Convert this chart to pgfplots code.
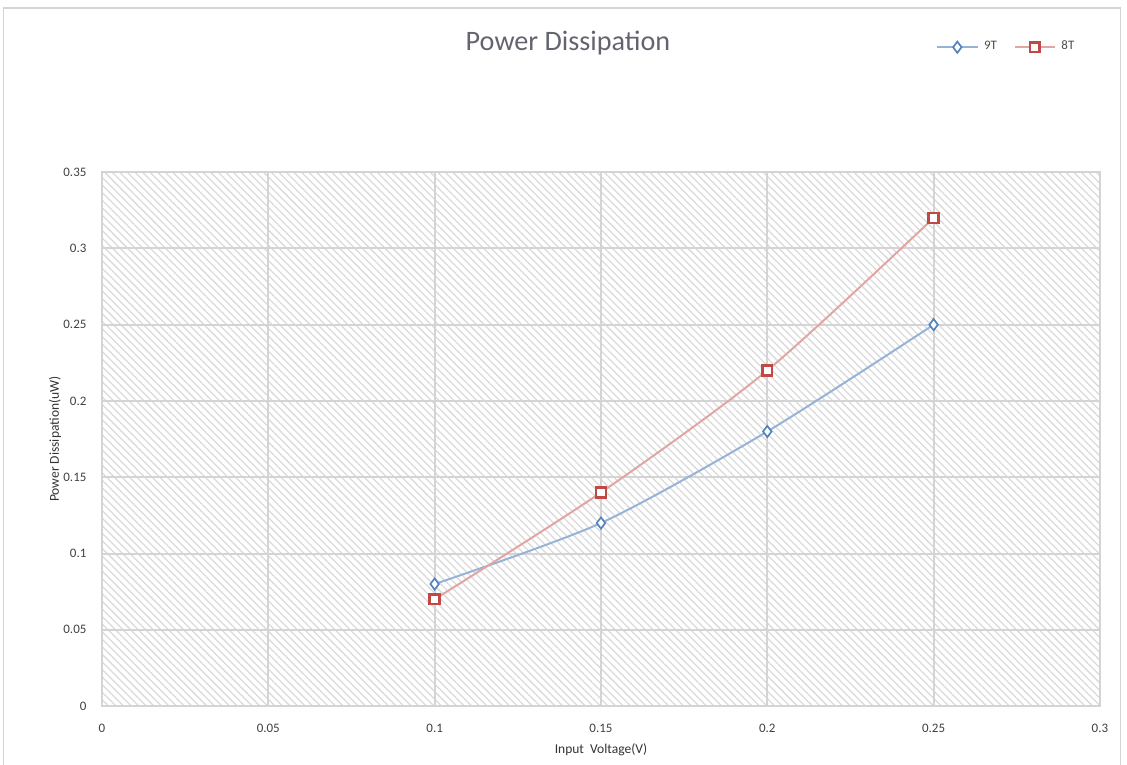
\documentclass[border=0pt]{standalone}
\usepackage{fontspec}
\setmainfont{Carlito}
\usepackage{pgfplots}
\pgfplotsset{compat=1.18}
\usetikzlibrary{patterns.meta}

\definecolor{titlegray}{RGB}{100,100,112}
\definecolor{blueline}{RGB}{150,178,214}
\definecolor{bluemark}{RGB}{84,130,190}
\definecolor{redline}{RGB}{225,165,163}
\definecolor{redmark}{RGB}{192,72,70}
\definecolor{gridgray}{RGB}{212,212,212}
\definecolor{hatch}{RGB}{218,218,218}

\begin{document}
\begin{tikzpicture}
\useasboundingbox (-36.2pt,-20.6pt) rectangle (363.8pt,250.6pt);
\draw[gridgray,line width=0.5pt] (-35pt,-25pt) -- (-35pt,247.8pt) -- (361.5pt,247.8pt) -- (361.5pt,-25pt);
\begin{axis}[
    at={(0,0)}, anchor=south west,
    scale only axis,
    width=354.2pt, height=189.5pt,
    xmin=0, xmax=0.3,
    ymin=0, ymax=0.35,
    xtick={0,0.05,...,0.3},
    ytick={0,0.05,...,0.35},
    xticklabels={0,0.05,0.1,0.15,0.2,0.25,0.3},
    yticklabels={0,0.05,0.1,0.15,0.2,0.25,0.3,0.35},
    tick label style={font=\fontsize{4.6}{5}\selectfont, text=black!75},
    /pgf/number format/assume math mode=true,
    xticklabel style={yshift=-3pt},
    yticklabel style={xshift=-2pt},
    major tick length=0pt,
    axis line style={gridgray, line width=0.5pt},
    grid=major,
    grid style={gridgray, line width=0.7pt},
    axis background/.style={pattern={Lines[angle=-45,distance=1.9pt,line width=0.45pt]}, pattern color=hatch},
    xlabel={Input \ Voltage(V)},
    ylabel={Power Dissipation(uW)},
    label style={font=\fontsize{4.8}{5}\selectfont, text=black!80},
    xlabel style={yshift=3pt},
    ylabel style={yshift=-6pt},
    legend columns=2,
    legend style={at={(0.827,1.234)}, anchor=west, draw=none, fill=none,
        font=\fontsize{4.6}{5}\selectfont, text=black!70,
        /tikz/every even column/.append style={column sep=4pt}},
    legend image code/.code={
        \draw[mark repeat=2,mark phase=2,#1] plot coordinates {(0cm,0cm) (0.25cm,0cm) (0.5cm,0cm)};
    },
]
\addplot[blueline, line width=0.7pt, smooth, tension=0.45,
    mark=diamond*, mark size=2pt,
    mark options={draw=bluemark, fill=white, line width=0.6pt}]
    coordinates {(0.1,0.08)(0.15,0.12)(0.2,0.18)(0.25,0.25)};
\addplot[redline, line width=0.7pt, smooth, tension=0.45,
    mark=square*, mark size=1.75pt,
    mark options={draw=redmark, fill=white, line width=0.9pt}]
    coordinates {(0.1,0.07)(0.15,0.14)(0.2,0.22)(0.25,0.32)};
\legend{9T,8T}
\end{axis}
\node[font=\fontsize{10}{12}\selectfont, text=titlegray] at (165.4pt,235.4pt) {Power Dissipation};
\end{tikzpicture}
\end{document}
